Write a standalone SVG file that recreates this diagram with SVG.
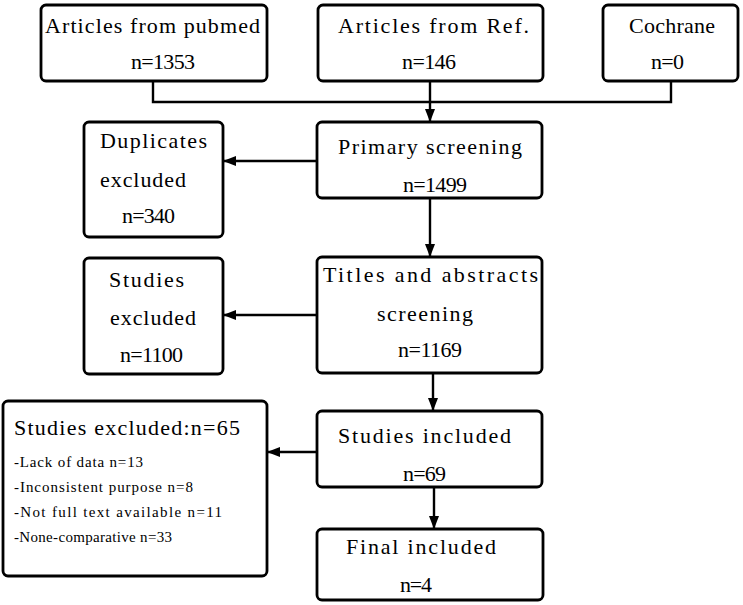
<svg xmlns="http://www.w3.org/2000/svg" width="743" height="605" viewBox="0 0 743 605">
<defs>
<marker id="arr" markerUnits="userSpaceOnUse" markerWidth="14" markerHeight="12" refX="13" refY="5" orient="auto">
<path d="M0,0 L13,5 L0,10 Z" fill="#000"/>
</marker>
<style>
.box{fill:#fff;stroke:#000;stroke-width:2.8}
.t{font-family:"Liberation Serif","DejaVu Serif",serif;font-size:22px;fill:#000}
.s{font-family:"Liberation Serif","DejaVu Serif",serif;font-size:15px;fill:#000}
.c{fill:none;stroke:#000;stroke-width:2.4}
</style>
</defs>
<rect width="743" height="605" fill="#fff"/>
<g id="connectors">
<polyline class="c" points="153,81 153,102 671,102 671,81" stroke-width="3"/>
<line class="c" x1="430" y1="81" x2="430" y2="122" marker-end="url(#arr)"/>
<line class="c" x1="317" y1="161" x2="223" y2="161" marker-end="url(#arr)"/>
<line class="c" x1="430" y1="198" x2="430" y2="257" marker-end="url(#arr)"/>
<line class="c" x1="317" y1="315" x2="223" y2="315" marker-end="url(#arr)"/>
<line class="c" x1="433" y1="373" x2="433" y2="411" marker-end="url(#arr)"/>
<line class="c" x1="317" y1="452" x2="267" y2="452" marker-end="url(#arr)"/>
<line class="c" x1="434" y1="487" x2="434" y2="529" marker-end="url(#arr)"/>
</g>
<g id="pubmed">
<rect class="box" x="41" y="5" width="226" height="76" rx="5"/>
<text class="t" x="45" y="33" textLength="215">Articles from pubmed</text>
<text class="t" x="131" y="69" textLength="64">n=1353</text>
</g>
<g id="ref">
<rect class="box" x="318" y="5" width="225" height="76" rx="5"/>
<text class="t" x="338" y="33" textLength="191">Articles from Ref.</text>
<text class="t" x="402" y="69" textLength="54">n=146</text>
</g>
<g id="cochrane">
<rect class="box" x="603" y="5" width="135" height="76" rx="5"/>
<text class="t" x="629" y="33" textLength="86">Cochrane</text>
<text class="t" x="651" y="69" textLength="33">n=0</text>
</g>
<g id="primary">
<rect class="box" x="317" y="122" width="225" height="76" rx="5"/>
<text class="t" x="338" y="154" textLength="184">Primary screening</text>
<text class="t" x="403" y="192" textLength="64">n=1499</text>
</g>
<g id="duplicates">
<rect class="box" x="84" y="122" width="139" height="115" rx="5"/>
<text class="t" x="100" y="148" textLength="107">Duplicates</text>
<text class="t" x="100" y="187" textLength="86">excluded</text>
<text class="t" x="122" y="223" textLength="53">n=340</text>
</g>
<g id="titles">
<rect class="box" x="317" y="257" width="225" height="116" rx="5"/>
<text class="t" x="323" y="282" textLength="215">Titles and abstracts</text>
<text class="t" x="377" y="321" textLength="96">screening</text>
<text class="t" x="398" y="357" textLength="64">n=1169</text>
</g>
<g id="excluded1">
<rect class="box" x="84" y="258" width="139" height="116" rx="5"/>
<text class="t" x="109" y="287" textLength="75">Studies</text>
<text class="t" x="110" y="325" textLength="86">excluded</text>
<text class="t" x="120" y="362" textLength="63">n=1100</text>
</g>
<g id="included">
<rect class="box" x="317" y="411" width="225" height="76" rx="5"/>
<text class="t" x="338" y="443" textLength="173">Studies included</text>
<text class="t" x="403" y="481" textLength="43">n=69</text>
</g>
<g id="excluded2">
<rect class="box" x="3" y="401" width="264" height="175" rx="5"/>
<text class="t" x="14" y="435" textLength="226">Studies excluded:n=65</text>
<text class="s" x="14" y="467" textLength="129">-Lack of data n=13</text>
<text class="s" x="14" y="492" textLength="179">-Inconsistent purpose n=8</text>
<text class="s" x="14" y="517" textLength="208">-Not full text available n=11</text>
<text class="s" x="14" y="542" textLength="158">-None-comparative n=33</text>
</g>
<g id="final">
<rect class="box" x="317" y="529" width="226" height="71" rx="5"/>
<text class="t" x="346" y="554" textLength="150">Final included</text>
<text class="t" x="400" y="592" textLength="32">n=4</text>
</g>
</svg>
